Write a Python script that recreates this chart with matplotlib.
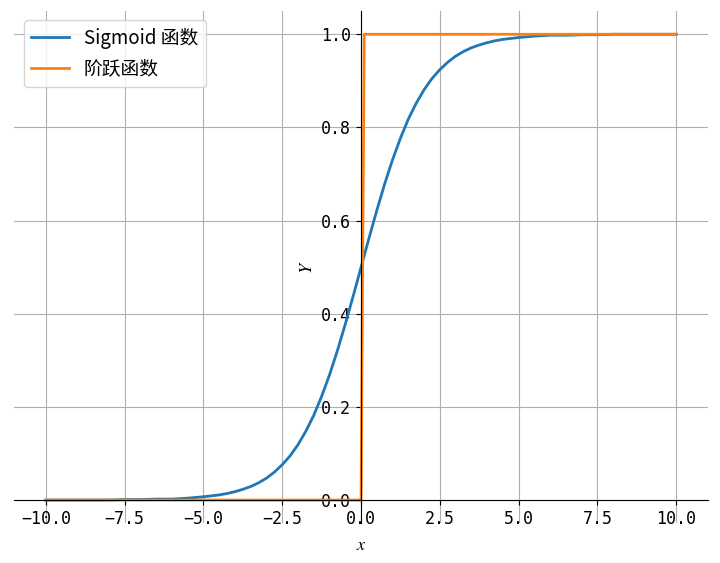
import numpy as np
import matplotlib
matplotlib.use('Agg')
import matplotlib.pyplot as plt

plt.rcParams['font.family'] = ['DejaVu Sans Mono', 'Noto Sans CJK SC']
plt.rcParams['axes.unicode_minus'] = True
plt.rcParams['mathtext.fontset'] = 'stix'
plt.rcParams['font.size'] = 12

# Sigmoid curve values
sig_x = [-10.0, -9.5, -9.0, -8.5, -8.0, -7.5, -7.0, -6.5, -6.0, -5.5,
         -5.0, -4.75, -4.5, -4.25, -4.0, -3.75, -3.5, -3.25, -3.0, -2.75,
         -2.5, -2.25, -2.0, -1.75, -1.5, -1.25, -1.0, -0.75, -0.5, -0.25,
         0.0, 0.25, 0.5, 0.75, 1.0, 1.25, 1.5, 1.75, 2.0, 2.25,
         2.5, 2.75, 3.0, 3.25, 3.5, 3.75, 4.0, 4.25, 4.5, 4.75,
         5.0, 5.5, 6.0, 6.5, 7.0, 7.5, 8.0, 8.5, 9.0, 9.5, 10.0]
sig_y = [0.000, 0.000, 0.000, 0.000, 0.000, 0.001, 0.001, 0.002, 0.002, 0.004,
         0.007, 0.009, 0.011, 0.014, 0.018, 0.023, 0.029, 0.037, 0.047, 0.060,
         0.076, 0.095, 0.119, 0.148, 0.182, 0.223, 0.269, 0.321, 0.378, 0.438,
         0.500, 0.562, 0.622, 0.679, 0.731, 0.777, 0.818, 0.852, 0.881, 0.905,
         0.924, 0.940, 0.953, 0.963, 0.971, 0.977, 0.982, 0.986, 0.989, 0.991,
         0.993, 0.996, 0.998, 0.998, 0.999, 0.999, 1.000, 1.000, 1.000, 1.000, 1.000]

# Step function
step_x = [-10.0, 0.0, 0.1, 10.0]
step_y = [0, 0, 1, 1]

fig = plt.figure(figsize=(7.2, 5.63), dpi=100)
ax = fig.add_axes([0.02, 0.0705, 0.963, 0.91])

ax.plot(sig_x, sig_y, color='#1f77b4', linewidth=2, label='Sigmoid 函数')
ax.plot(step_x, step_y, color='#ff7f0e', linewidth=2, label='阶跃函数')

# Move spines to the origin
ax.spines['right'].set_visible(False)
ax.spines['top'].set_visible(False)
ax.spines['left'].set_position(('data', 0))
ax.spines['bottom'].set_position(('data', 0))

ax.set_xticks([-10, -7.5, -5, -2.5, 0, 2.5, 5, 7.5, 10])
ax.set_yticks([0, 0.2, 0.4, 0.6, 0.8, 1.0])
ax.set_xlabel('$x$', fontsize=13, labelpad=6)
ax.set_ylabel('$Y$', fontsize=13)

ax.grid(True)
ax.legend(loc='upper left', prop={'family': ['Noto Sans CJK SC'], 'size': 13.5})

plt.savefig('out.png', dpi=100)
